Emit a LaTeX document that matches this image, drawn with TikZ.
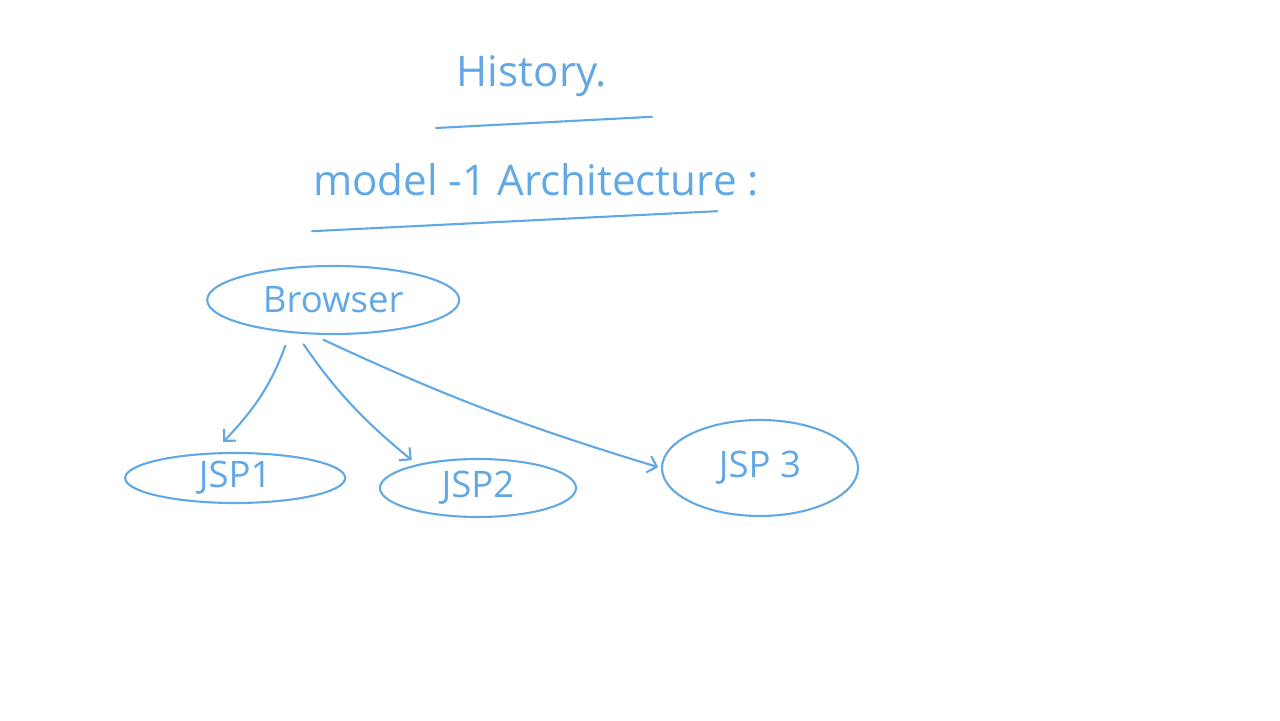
\documentclass[tikz,border=0pt]{standalone}
\usepackage{fontspec}
\setmainfont{Open Sans}
\usepackage{xcolor}
\usetikzlibrary{arrows.meta,shapes.geometric}

\definecolor{pen}{RGB}{98,168,228}

\begin{document}
\begin{tikzpicture}[
            >={Straight Barb[length=6pt,width=12pt]},
            ink/.style={pen, line width=1.5pt, line cap=round},
            head_text/.style={pen, font=\fontsize{30}{34}\selectfont},
            bubble/.style={ellipse, draw=pen, line width=1.5pt, inner sep=0pt, text=pen, font=\fontsize{26}{30}\selectfont},
            flow/.style={->, ink, shorten <=8pt, shorten >=2pt}
        ]

        % Canvas
        \useasboundingbox (0,0) rectangle (32,18);

        % Headings with underlines
        \node[head_text] (history) at (13.3, 16.1) {History.};
        \coordinate (hl1) at (10.9, 14.8);
        \coordinate (hl2) at (16.3, 15.08);
        \draw[ink] (hl1) -- (hl2);

        \node[head_text] (model) at (13.4, 13.5) {model -1 Architecture :};
        \coordinate (ml1) at (7.8, 12.22);
        \coordinate (ml2) at (17.93, 12.72);
        \draw[ink] (ml1) -- (ml2);

        % Browser and the JSP pages
        \node[bubble, minimum width=6.3cm, minimum height=1.7cm] (browser) at (8.33, 10.5) {Browser};
        \node[bubble, minimum width=5.5cm, minimum height=1.25cm] (jsp1) at (5.88, 6.05) {JSP1};
        \node[bubble, minimum width=4.9cm, minimum height=1.45cm] (jsp2) at (11.95, 5.8) {JSP2};
        \node[bubble, minimum width=4.9cm, minimum height=2.4cm] (jsp3) at (19.0, 6.3) {JSP 3};

        % Requests from the browser
        \draw[flow] ([xshift=-1.1cm]browser.south) to[bend left=12] ([xshift=-0.35cm,yshift=0.2cm]jsp1.north);
        \draw[flow] ([xshift=-0.9cm]browser.south) to[bend right=8] ([xshift=-1.6cm,yshift=-0.1cm]jsp2.north);
        \draw[flow] ([xshift=-0.5cm]browser.south) to[bend right=4] (jsp3.west);

    \end{tikzpicture}
\end{document}
